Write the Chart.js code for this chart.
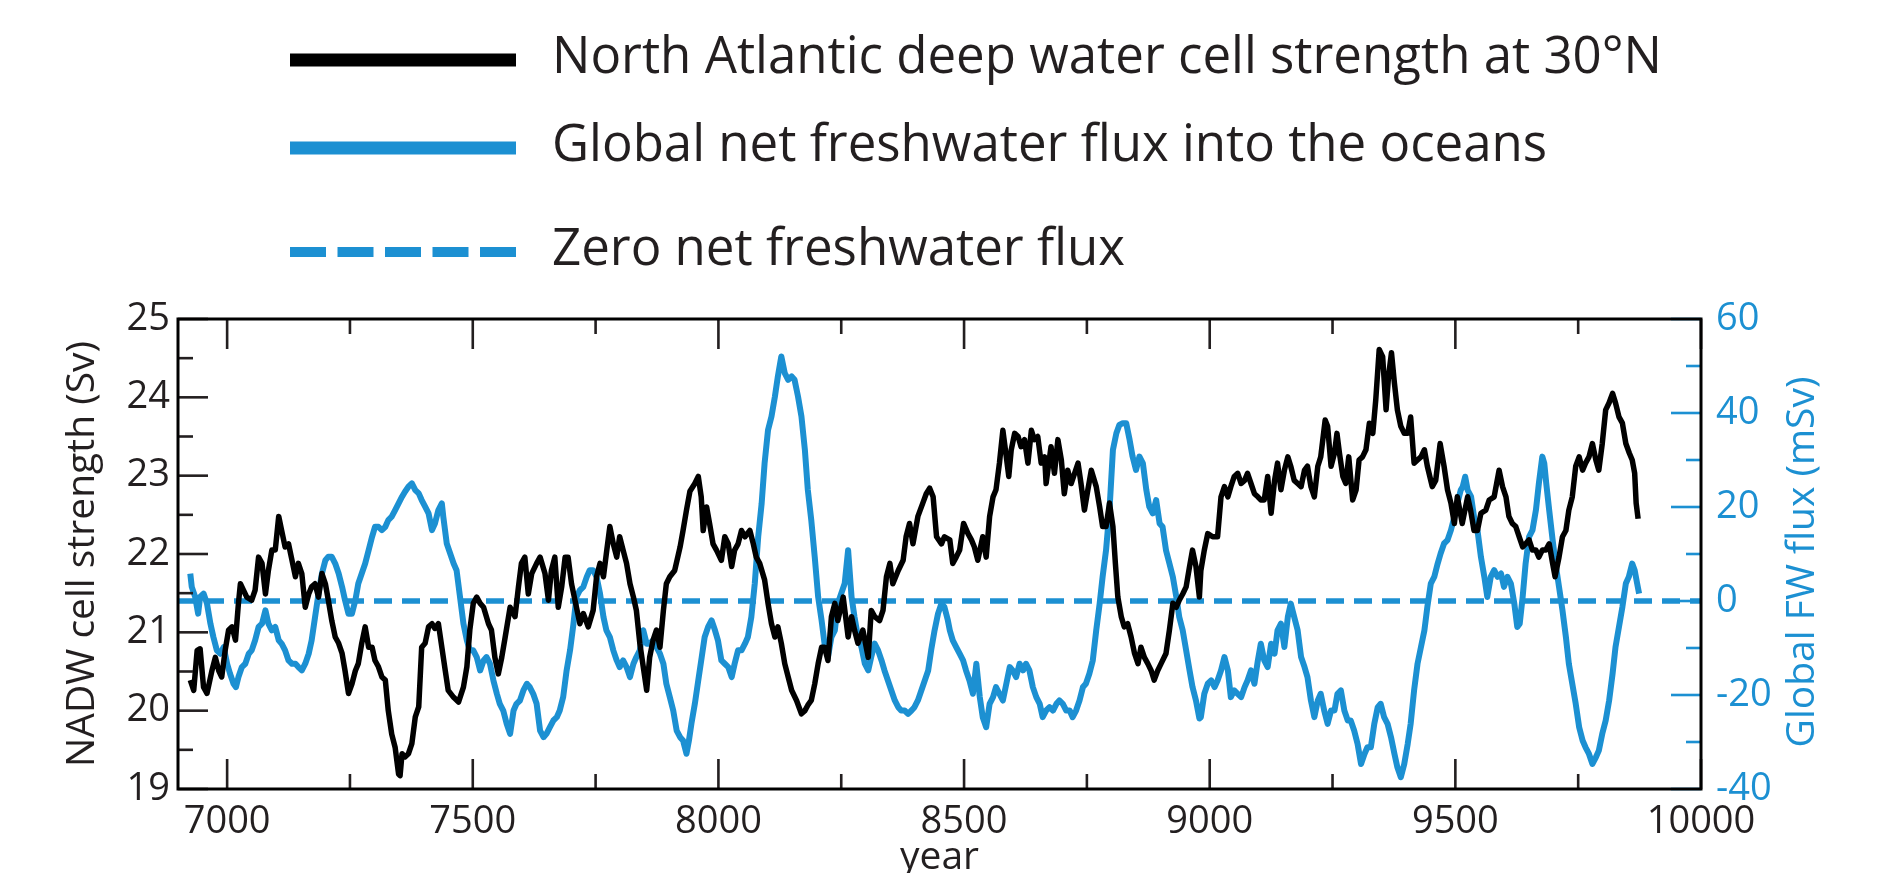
<!DOCTYPE html>
<html><head><meta charset="utf-8">
<script src="https://cdn.jsdelivr.net/npm/chart.js@4.4.1/dist/chart.umd.min.js"></script>
<style>html,body{margin:0;padding:0;background:#fff;overflow:hidden}#wrap{width:1882px;height:900px}</style>
</head><body><div id="wrap"><canvas id="c" width="1882" height="900"></canvas></div>
<script>
// ---------- data ----------
const seriesLabels = [
  'North Atlantic deep water cell strength at 30°N',
  'Global net freshwater flux into the oceans',
  'Zero net freshwater flux'
];
const axisTitles = { x: 'year', left: 'NADW cell strength (Sv)', right: 'Global FW flux (mSv)' };

const nadwYears = [
6925,6932,6939,6945,6952,6959,6969,6976,6983,6989,6996,7003,7010,7017,7023,7027,7033,7040,7050,7057,
7064,7071,7078,7084,7091,7098,7105,7111,7118,7125,7132,7139,7145,7152,7159,7166,7172,7179,7186,7193,
7200,7206,7213,7220,7227,7234,7240,7247,7254,7261,7267,7274,7281,7288,7295,7301,7308,7315,7322,7328,
7335,7342,7349,7352,7356,7362,7369,7376,7383,7390,7396,7403,7410,7417,7423,7430,
7444,7450,7461,7471,7481,7488,7494,7501,7508,7515,7522,7532,7538,7545,7552,7559,7566,7576,7586,7593,
7599,7606,7613,7620,7630,7637,7647,7654,7660,7667,7674,7681,7688,7694,7701,7711,7718,7725,7735,7745,
7752,7759,7766,7772,7779,7786,7793,7799,7806,7813,7820,7827,7833,7840,7847,7854,7860,7867,7874,7881,
7888,7894,7901,7911,7922,7928,7935,7942,7952,7959,
7965,7969,7976,7982,7989,7996,8006,8013,8020,8027,8033,8040,8047,8054,8064,8071,8077,8084,8094,8101,
8108,8115,8121,8128,8135,8142,8149,8159,8169,8176,8182,8189,8196,8203,8210,8216,8223,8230,8237,8243,
8254,8264,8271,8277,8284,8294,8305,8311,8318,8328,8335,8342,8349,8355,8366,8376,8382,8389,8396,8406,
8416,8423,8430,8437,8444,8454,8460,8471,8477,
8484,8491,8499,8508,8515,8521,8528,8538,8545,8552,8559,8565,8572,8579,8586,8591,8596,8603,8610,8616,
8623,8630,8637,8643,8650,8657,8664,8667,8677,8684,8691,8698,8704,8711,8718,8725,8732,8738,8745,8752,
8759,8769,8776,8782,8789,8796,8803,8808,8813,8820,8826,8833,8840,8847,8854,8860,8867,8874,8881,8887,
8894,8901,8911,8918,8925,8932,8938,8945,8952,8959,8965,8972,8979,
8982,8989,8996,9006,9016,9023,9030,9037,9043,9050,9057,9064,9071,9077,9084,9091,9098,9104,9111,9118,
9125,9132,9138,9145,9152,9159,9165,9172,9179,9186,9193,9199,9206,9213,9220,9226,9235,9240,9247,9254,
9259,9264,9271,9277,9283,9291,9298,9304,9311,9318,9325,9332,9338,9345,9352,9359,9364,9370,9376,9382,
9389,9396,9403,9409,9416,9423,9430,9437,9443,9453,9460,9469,9477,9484,9491,9498,9504,
9514,9525,9531,9538,9545,9552,9562,9569,9579,9589,9596,9603,9609,9616,9623,9630,9637,9643,9650,9657,
9664,9670,9677,9684,9691,9698,9703,9711,9718,9725,9731,9738,9745,9752,9759,9765,9772,9779,9786,9792,
9799,9806,9813,9820,9826,9833,9840,9847,9854,9860,9865,9868,9872
];
const nadwValues = [
20.39,20.26,20.77,20.79,20.30,20.22,20.51,20.68,20.51,20.43,20.77,21.03,21.07,20.90,21.37,21.62,21.54,21.45,21.41,21.54,
21.96,21.88,21.49,21.79,22.05,22.05,22.48,22.30,22.09,22.13,21.92,21.71,21.88,21.75,21.32,21.49,21.58,21.62,21.45,21.75,
21.62,21.41,21.15,20.94,20.86,20.73,20.51,20.22,20.34,20.51,20.60,20.86,21.07,20.81,20.81,20.64,20.56,20.43,20.39,20.00,
19.70,19.53,19.19,19.17,19.45,19.41,19.45,19.58,19.92,20.05,20.81,20.86,21.07,21.11,21.05,21.11,
20.51,20.26,20.17,20.11,20.30,20.56,21.03,21.37,21.45,21.37,21.32,21.11,21.03,20.68,20.47,20.68,20.94,21.32,21.20,21.58,
21.88,21.96,21.49,21.75,21.88,21.96,21.75,21.41,21.79,21.96,21.32,21.58,21.96,21.96,21.62,21.32,21.11,21.24,21.07,21.28,
21.71,21.88,21.71,22.01,22.35,22.13,21.96,22.22,22.05,21.88,21.62,21.45,21.28,20.86,20.56,20.26,20.68,20.90,21.03,20.81,
21.28,21.62,21.71,21.79,22.09,22.30,22.56,22.80,22.90,22.99,
22.73,22.30,22.60,22.39,22.13,22.05,21.92,22.22,22.13,21.84,22.05,22.13,22.30,22.22,22.30,22.13,21.96,21.88,21.67,21.37,
21.11,20.94,21.07,20.86,20.60,20.43,20.26,20.13,19.96,20.00,20.07,20.13,20.34,20.60,20.81,20.81,20.64,21.20,21.37,21.15,
21.45,20.94,21.20,21.03,20.86,21.03,20.68,21.28,21.20,21.15,21.28,21.71,21.88,21.62,21.79,21.92,22.22,22.39,22.13,22.48,
22.65,22.77,22.84,22.73,22.22,22.13,22.22,22.18,21.88,
21.96,22.05,22.39,22.26,22.18,22.09,21.92,22.22,21.96,22.48,22.73,22.82,23.16,23.58,23.24,22.99,23.33,23.54,23.50,23.37,
23.46,23.16,23.58,23.46,23.50,23.16,23.24,22.90,23.37,23.03,23.46,23.20,22.77,23.07,22.90,23.03,23.16,22.90,22.56,22.82,
23.07,22.86,22.60,22.35,22.35,22.65,22.35,21.88,21.45,21.20,21.07,21.11,20.94,20.73,20.60,20.81,20.68,20.60,20.51,20.39,
20.51,20.60,20.73,21.03,21.37,21.32,21.41,21.49,21.58,21.84,22.05,21.84,21.45,
21.79,22.05,22.26,22.22,22.22,22.73,22.86,22.73,22.86,22.99,23.03,22.90,22.94,23.03,22.90,22.77,22.73,22.69,22.69,22.99,
22.52,22.94,23.16,22.82,23.07,23.24,23.12,22.94,22.90,22.86,23.07,23.12,22.86,22.73,23.12,23.24,23.71,23.63,23.12,23.29,
23.54,23.29,22.99,22.90,23.24,22.69,22.82,23.20,23.24,23.33,23.67,23.54,23.97,24.61,24.52,23.84,24.27,24.57,24.18,23.84,
23.63,23.54,23.54,23.75,23.16,23.20,23.24,23.33,23.12,22.86,22.94,23.41,23.12,22.82,22.65,22.39,22.73,
22.39,22.73,22.56,22.30,22.30,22.52,22.56,22.69,22.73,23.07,22.86,22.73,22.48,22.39,22.35,22.22,22.09,22.13,22.18,22.05,
22.05,21.96,22.05,22.05,22.13,21.88,21.71,21.96,22.22,22.30,22.56,22.73,23.12,23.24,23.07,23.16,23.24,23.41,23.20,23.07,
23.41,23.84,23.93,24.05,23.93,23.75,23.67,23.41,23.29,23.20,23.03,22.65,22.45
];

const fwYears = [
6925,6928,6935,6941,6945,6952,6959,6966,6972,6979,6986,6993,7000,7006,7013,7018,7023,7030,7037,7044,
7050,7057,7064,7071,7078,7084,7091,7098,7105,7111,7118,7125,7132,7139,7145,7152,7159,7166,7172,7179,
7186,7193,7200,7206,7213,7220,7227,7234,7240,7247,7254,7261,7267,7274,7281,7288,7295,7301,7308,7315,
7322,7328,7335,7342,7349,7356,7362,7369,7376,7383,7390,7396,7403,7410,7417,7423,7430,7437,7440,7447,
7454,7461,7467,7474,7481,7488,7494,7501,7508,7515,7522,7528,7535,7542,7549,7555,7562,7569,7576,7583,
7589,7596,7603,7610,7616,7623,7630,7637,7644,7650,7657,7664,7671,7677,7684,7691,7698,7705,7711,7718,
7725,7732,7738,7745,7752,7759,7766,7772,7779,7786,7793,7799,7806,7813,7820,7827,7833,7840,7847,7854,
7860,7867,7874,7881,7888,7894,7901,7908,7915,7922,7928,7935,7940,7945,7952,7959,7966,7972,7979,7986,
7993,7999,8006,8013,8020,8027,8033,8040,8047,8054,8060,8067,8074,8081,8088,8094,8101,8108,8115,8121,
8128,8135,8142,8149,8155,8162,8169,8176,8182,8189,8196,8203,8210,8216,8223,8230,8237,8243,8250,8257,
8264,8271,8277,8284,8291,8298,8305,8311,8318,8325,8332,8338,8345,8352,8359,8366,8372,8379,8386,8393,
8399,8406,8413,8420,8427,8433,8440,8447,8454,8460,8467,8471,8477,8484,8491,8498,8504,8511,8518,8525,
8532,8538,8545,8552,8559,8565,8572,8579,8586,8593,8599,8606,8613,8620,8626,8633,8640,8647,8654,8660,
8667,8674,8681,8688,8694,8701,8708,8715,8721,8728,8735,8742,8748,8755,8762,8769,8776,8782,8789,8796,
8803,8810,8816,8823,8830,8837,8843,8850,8857,8864,8871,8877,8884,8891,8898,8904,8911,8918,8925,8932,
8938,8945,8952,8959,8965,8972,8979,8982,8989,8996,9003,9010,9016,9023,9030,9037,9043,9050,9057,9064,
9071,9077,9084,9091,9098,9104,9111,9118,9125,9132,9138,9145,9152,9159,9165,9172,9179,9186,9193,9199,
9206,9213,9220,9226,9233,9240,9247,9254,9260,9267,9274,9281,9287,9294,9301,9308,9315,9321,9328,9335,
9342,9348,9355,9362,9369,9376,9382,9389,9396,9403,9409,9416,9423,9430,9437,9443,9450,9457,9464,9470,
9477,9484,9491,9498,9504,9511,9515,9520,9525,9532,9538,9545,9552,9559,9565,9572,9579,9586,9593,9599,
9606,9613,9620,9626,9631,9637,9643,9650,9657,9664,9670,9677,9681,9685,9691,9698,9704,9711,9718,9725,
9731,9738,9745,9752,9759,9765,9772,9779,9786,9792,9799,9806,9813,9820,9826,9833,9840,9847,9853,9860,
9865,9870,9874
];
const fwValues = [
5.84,3.00,0.87,-2.69,0.87,1.58,-0.55,-4.82,-7.66,-10.50,-11.22,-9.79,-13.35,-15.48,-17.61,-18.32,-16.19,-14.06,-13.35,-11.22,
-10.50,-8.37,-5.53,-4.82,-1.98,-4.82,-6.24,-5.53,-8.37,-9.08,-10.50,-12.64,-13.35,-13.35,-14.06,-14.77,-13.35,-11.22,-8.37,-3.40,
1.58,5.84,8.69,9.40,9.40,7.97,5.84,3.00,0.16,-2.69,-2.69,0.16,3.71,5.84,7.97,10.82,13.66,15.79,15.79,15.08,
15.79,17.21,17.93,19.35,20.77,22.19,23.26,24.32,25.03,23.61,22.90,21.48,20.06,18.64,15.08,16.50,19.35,20.77,17.93,12.24,
10.11,7.97,6.55,0.87,-4.82,-8.37,-10.50,-10.50,-11.93,-14.77,-12.64,-11.93,-13.35,-16.90,-19.74,-21.88,-23.30,-26.14,-28.27,-23.30,
-21.88,-21.17,-19.03,-17.61,-18.32,-19.74,-21.88,-27.56,-28.98,-28.27,-26.85,-25.43,-24.72,-23.30,-20.45,-14.77,-10.50,-4.82,0.87,2.29,
3.00,5.13,6.55,6.55,5.13,1.58,-3.40,-6.24,-7.66,-10.50,-12.64,-14.06,-12.64,-14.06,-16.19,-13.35,-11.93,-10.50,-6.24,-9.08,
-9.08,-8.37,-9.79,-11.22,-13.35,-17.61,-20.45,-23.30,-27.56,-28.98,-29.69,-32.50,-29.69,-26.14,-21.88,-16.90,-11.93,-7.66,-5.53,-4.11,
-6.24,-8.37,-12.64,-13.35,-14.06,-16.19,-13.35,-10.50,-10.50,-9.08,-7.66,-3.40,3.71,13.66,20.77,29.30,36.40,39.25,43.51,47.78,
52.04,48.49,47.06,47.78,47.06,43.51,39.25,32.14,23.61,17.21,9.40,0.87,-4.11,-9.08,-11.93,-7.66,-6.24,-0.55,1.58,3.71,
10.82,0.87,-3.40,-7.66,-9.79,-13.35,-14.77,-11.93,-9.08,-10.50,-12.64,-14.77,-16.90,-19.03,-21.17,-22.59,-23.30,-23.30,-24.01,-23.30,
-22.59,-21.17,-19.03,-16.90,-14.77,-10.50,-6.24,-2.69,-0.55,-1.26,-4.11,-6.24,-8.37,-9.79,-11.22,-12.64,-14.77,-16.90,-19.74,-13.35,
-20.45,-24.72,-26.85,-21.88,-20.45,-18.32,-19.74,-21.17,-17.61,-14.06,-14.77,-16.19,-13.35,-14.77,-13.35,-14.77,-18.32,-20.45,-21.88,-24.72,
-23.30,-22.59,-23.30,-21.88,-21.17,-21.88,-23.30,-23.30,-24.72,-23.30,-21.17,-18.32,-17.61,-15.48,-12.64,-6.24,-0.55,5.13,10.82,19.35,
32.14,35.69,37.47,37.83,37.83,34.27,30.72,27.88,30.72,29.30,23.61,20.06,18.64,21.48,16.50,15.79,10.82,7.97,5.13,0.87,
-3.40,-6.24,-10.50,-14.77,-18.32,-21.17,-25.00,-24.72,-19.74,-17.61,-16.90,-18.32,-16.90,-14.77,-11.93,-14.77,-20.45,-19.03,-19.74,-20.45,
-18.32,-16.90,-14.77,-17.61,-12.64,-9.08,-12.64,-14.06,-9.08,-11.22,-6.24,-4.82,-9.79,-3.40,-0.55,-3.40,-6.24,-11.93,-14.06,-16.19,
-21.17,-24.72,-21.17,-19.74,-23.30,-26.14,-23.30,-23.30,-19.74,-19.03,-23.30,-25.43,-25.43,-27.56,-30.41,-34.67,-32.54,-31.12,-31.12,-26.14,
-22.59,-21.88,-24.72,-26.14,-28.98,-32.54,-35.38,-37.50,-34.67,-30.41,-26.14,-19.03,-13.35,-9.79,-6.24,-1.26,3.71,5.13,7.97,10.11,
12.24,12.95,15.08,17.93,20.77,23.61,24.32,26.45,23.61,22.19,17.93,15.08,9.40,5.13,0.87,5.13,6.55,5.13,5.84,3.00,
5.13,3.71,-0.55,-5.53,-4.82,0.87,7.97,13.66,15.08,19.35,25.03,30.72,29.30,25.03,19.35,12.95,7.97,3.00,-1.98,-7.66,
-13.35,-17.61,-21.88,-26.85,-29.69,-31.12,-32.54,-34.67,-33.25,-31.83,-28.27,-25.43,-21.17,-15.48,-9.79,-5.53,-1.26,3.71,5.13,7.97,
6.55,3.71,1.58
];

const zeroYears = [6900, 10000];
const zeroValues = [0, 0];

const yearTicks = [7000,7250,7500,7750,8000,8250,8500,8750,9000,9250,9500,9750,10000];
const nadwTicks = [19,19.5,20,20.5,21,21.5,22,22.5,23,23.5,24,24.5,25];
const fwTicks = [-40,-30,-20,-10,0,10,20,30,40,50,60];

// ---------- styling ----------
const INK = '#231f20';
const BLUE = '#1c90d2';
const FONT = "'Open Sans', sans-serif";
const toPts = (xs, ys) => xs.map((x, i) => ({ x: x, y: ys[i] }));

const frameAndTicks = {
  id: 'frameAndTicks',
  afterDatasetsDraw(chart) {
    const { ctx, chartArea: a, scales } = chart;
    ctx.save();
    ctx.lineCap = 'butt';
    ctx.lineWidth = 2.6;
    ctx.strokeStyle = INK;
    scales.x.ticks.forEach(t => {
      const px = scales.x.getPixelForValue(t.value);
      const len = t.label !== '' ? 30 : 15;
      ctx.beginPath();
      ctx.moveTo(px, a.bottom); ctx.lineTo(px, a.bottom - len);
      ctx.moveTo(px, a.top); ctx.lineTo(px, a.top + len);
      ctx.stroke();
    });
    scales.y.ticks.forEach(t => {
      const py = scales.y.getPixelForValue(t.value);
      const len = t.label !== '' ? 30 : 15;
      ctx.beginPath(); ctx.moveTo(a.left, py); ctx.lineTo(a.left + len, py); ctx.stroke();
    });
    ctx.strokeStyle = BLUE;
    scales.y1.ticks.forEach(t => {
      const py = scales.y1.getPixelForValue(t.value);
      const len = t.label !== '' ? 30 : 15;
      ctx.beginPath(); ctx.moveTo(a.right, py); ctx.lineTo(a.right - len, py); ctx.stroke();
    });
    ctx.strokeStyle = '#000';
    ctx.lineWidth = 3;
    ctx.strokeRect(a.left, a.top, a.right - a.left, a.bottom - a.top);
    ctx.restore();
  }
};

const sideLegend = {
  id: 'sideLegend',
  afterDraw(chart, args, opts) {
    const { ctx } = chart;
    ctx.save();
    chart.data.datasets.forEach((ds, i) => {
      const y = opts.rows[i];
      ctx.beginPath();
      ctx.strokeStyle = ds.borderColor;
      ctx.lineWidth = ds.borderDash ? opts.dashWidth : opts.lineWidth;
      ctx.setLineDash(ds.borderDash ? opts.dash : []);
      ctx.lineCap = 'butt';
      ctx.moveTo(opts.x0, y); ctx.lineTo(opts.x1, y);
      ctx.stroke();
      ctx.setLineDash([]);
      ctx.fillStyle = INK;
      ctx.font = opts.font;
      ctx.textBaseline = 'middle';
      ctx.textAlign = 'left';
      ctx.fillText(ds.label, opts.textX, y + opts.textDy);
    });
    // right axis title, reading bottom to top
    ctx.translate(opts.rightTitleX, (chart.chartArea.top + chart.chartArea.bottom) / 2 + opts.rightTitleDy);
    ctx.rotate(-Math.PI / 2);
    ctx.fillStyle = BLUE;
    ctx.font = opts.axisFont;
    ctx.textAlign = 'center';
    ctx.textBaseline = 'middle';
    ctx.fillText(axisTitles.right, 0, 0);
    ctx.restore();
  }
};

const tickFont = { family: FONT, size: 38 };
const titleFont = { family: FONT, size: 39 };

new Chart(document.getElementById('c'), {
  type: 'line',
  data: {
    datasets: [
      { label: seriesLabels[0], data: toPts(nadwYears, nadwValues), yAxisID: 'y',
        borderColor: '#000', borderWidth: 5.5, pointRadius: 0, tension: 0, borderJoinStyle: 'round' },
      { label: seriesLabels[1], data: toPts(fwYears, fwValues), yAxisID: 'y1',
        borderColor: BLUE, borderWidth: 6, pointRadius: 0, tension: 0, borderJoinStyle: 'round' },
      { label: seriesLabels[2], data: toPts(zeroYears, zeroValues), yAxisID: 'y1',
        borderColor: BLUE, borderWidth: 5.5, borderDash: [18, 10], pointRadius: 0, tension: 0 }
    ]
  },
  options: {
    responsive: false,
    animation: false,
    devicePixelRatio: 1,
    layout: { padding: { top: 319, left: 0, right: 0, bottom: 0 } },
    plugins: {
      legend: { display: false },
      tooltip: { enabled: false },
      sideLegend: {
        rows: [60, 148, 252], x0: 290, x1: 516, textX: 552, textDy: -2,
        lineWidth: 13, dashWidth: 10, dash: [36, 11.5],
        font: "51px 'Open Sans', sans-serif",
        axisFont: "39px 'Open Sans', sans-serif",
        rightTitleX: 1803, rightTitleDy: 8
      }
    },
    scales: {
      x: {
        type: 'linear', position: 'bottom', min: 6900, max: 10000,
        afterBuildTicks: s => { s.ticks = yearTicks.map(v => ({ value: v })); },
        afterFit: s => { s.height = 900 - 789; },
        grid: { display: false, drawTicks: false },
        border: { display: false },
        ticks: { font: tickFont, color: INK, padding: 10, maxRotation: 0, autoSkip: false,
                 callback: v => (v % 500 === 0 ? String(v) : '') },
        title: { display: true, text: axisTitles.x, font: titleFont, color: INK, padding: { top: 0, bottom: 19 } }
      },
      y: {
        type: 'linear', position: 'left', min: 19, max: 25,
        afterBuildTicks: s => { s.ticks = nadwTicks.map(v => ({ value: v })); },
        afterFit: s => { s.width = 178; },
        grid: { display: false, drawTicks: false },
        border: { display: false },
        ticks: { font: tickFont, color: INK, padding: 8, autoSkip: false,
                 callback: v => (Number.isInteger(v) ? String(v) : '') },
        title: { display: true, text: axisTitles.left, font: titleFont, color: INK, padding: { top: 59, bottom: 0 } }
      },
      y1: {
        type: 'linear', position: 'right', min: -40, max: 60,
        afterBuildTicks: s => { s.ticks = fwTicks.map(v => ({ value: v })); },
        afterFit: s => { s.width = 1882 - 1701; },
        grid: { display: false, drawTicks: false },
        border: { display: false },
        ticks: { font: tickFont, color: BLUE, padding: 15, autoSkip: false,
                 callback: v => (v % 20 === 0 ? String(v) : '') }
      }
    }
  },
  plugins: [frameAndTicks, sideLegend]
});
</script>
</body></html>
